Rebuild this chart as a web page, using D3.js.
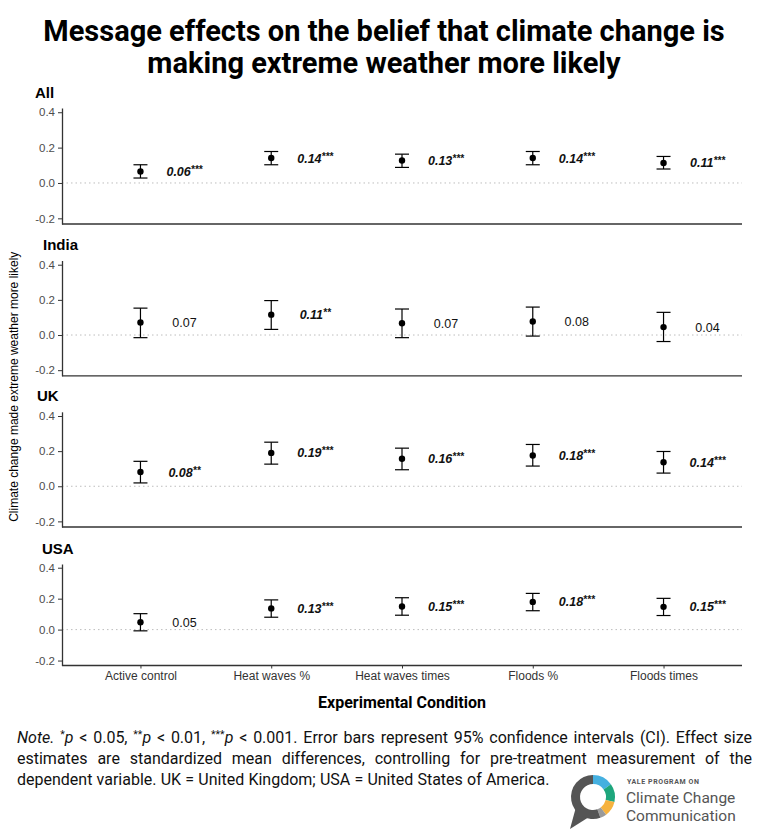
<!DOCTYPE html>
<meta charset="utf-8">
<script src="https://d3js.org/d3.v7.min.js"></script>
<body style="margin:0;background:#fff">
<div id="canvas"></div>
<script>
// data ---------------------------------------------------------------
var categories = ["Active control", "Heat waves %", "Heat waves times", "Floods %", "Floods times"];
var panelNames = ["All", "India", "UK", "USA"];
var yTicks = [-0.2, 0.0, 0.2, 0.4];

// estimates and 95% CI per panel (rows follow panelNames)
var estimates = [
    [0.065, 0.141, 0.127, 0.141, 0.113],
    [0.071, 0.116, 0.067, 0.077, 0.045],
    [0.081, 0.190, 0.157, 0.175, 0.137],
    [0.048, 0.137, 0.149, 0.179, 0.147]
];
var ciLow = [
    [0.028, 0.103, 0.088, 0.103, 0.079],
    [-0.015, 0.032, -0.015, -0.006, -0.037],
    [0.019, 0.126, 0.094, 0.115, 0.075],
    [-0.008, 0.080, 0.093, 0.122, 0.091]
];
var ciHigh = [
    [0.103, 0.178, 0.163, 0.178, 0.150],
    [0.153, 0.196, 0.148, 0.159, 0.129],
    [0.142, 0.251, 0.217, 0.238, 0.198],
    [0.103, 0.192, 0.206, 0.234, 0.202]
];
var valueLabels = [
    ["0.06", "0.14", "0.13", "0.14", "0.11"],
    ["0.07", "0.11", "0.07", "0.08", "0.04"],
    ["0.08", "0.19", "0.16", "0.18", "0.14"],
    ["0.05", "0.13", "0.15", "0.18", "0.15"]
];
var stars = [
    ["***", "***", "***", "***", "***"],
    ["", "**", "", "", ""],
    ["**", "***", "***", "***", "***"],
    ["", "***", "***", "***", "***"]
];

var titleLines = ["Message effects on the belief that climate change is", "making extreme weather more likely"];
var yTitle = "Climate change made extreme weather more likely";
var xTitle = "Experimental Condition";
// _ toggles italic, ^ toggles superscript
var noteLines = [
    "_Note._ ^*^_p_ < 0.05, ^**^_p_ < 0.01, ^***^_p_ < 0.001. Error bars represent 95% confidence intervals (CI). Effect size",
    "estimates are standardized mean differences, controlling for pre-treatment measurement of the",
    "dependent variable. UK = United Kingdom; USA = United States of America."
];

// layout ---------------------------------------------------------------
var width = 768, height = 834;
var left = 62, right = 742;
var panelBox = [[108, 224], [260.5, 375.8], [411.8, 527], [564, 665.5]];
var panelTitleX = [35, 43, 37, 42];
var axisFont = "'Liberation Sans', Arial, sans-serif";

var svg = d3.select("#canvas").append("svg")
    .attr("width", width).attr("height", height)
    .style("background", "#fff");

// title
svg.selectAll(".title").data(titleLines).enter().append("text")
    .attr("x", 384).attr("y", function(d, i){ return 41 + i * 32; })
    .attr("text-anchor", "middle")
    .style("font-family", "Roboto, sans-serif")
    .style("font-weight", "bold")
    .style("font-size", "29px")
    .attr("fill", "#000")
    .text(function(d){ return d; });

var x = d3.scalePoint().domain(categories).range([left, right]).padding(0.6);

panelNames.forEach(function(name, p){
    var box = panelBox[p];
    var y = d3.scaleLinear().domain([-0.232, 0.424]).range([box[1], box[0]]);
    var g = svg.append("g");

    // panel title
    g.append("text")
        .attr("x", panelTitleX[p]).attr("y", box[0] - 10.5)
        .style("font-family", axisFont).style("font-weight", "bold").style("font-size", "15px")
        .text(name);

    // zero line
    g.append("line")
        .attr("x1", left).attr("x2", right)
        .attr("y1", y(0)).attr("y2", y(0))
        .attr("stroke", "#bdbdbd").attr("stroke-width", 1)
        .attr("stroke-dasharray", "1.5,3");

    // y axis
    var yAxis = d3.axisLeft(y).tickValues(yTicks).tickSize(4).tickPadding(3).tickSizeOuter(0)
        .tickFormat(function(d){ return d.toFixed(1); });
    var ya = g.append("g").attr("transform", "translate(" + left + ",0)").call(yAxis);
    ya.select(".domain").attr("stroke", "#333").attr("stroke-width", 1.3);
    ya.selectAll(".tick line").attr("stroke", "#333");
    ya.selectAll(".tick text").attr("fill", "#4d4d4d")
        .style("font-family", axisFont).style("font-size", "11.5px");

    // bottom axis line
    var isLast = (p === panelNames.length - 1);
    var xAxis = d3.axisBottom(x).tickSize(isLast ? 3 : 0).tickSizeOuter(0);
    var xa = g.append("g").attr("transform", "translate(0," + box[1] + ")").call(xAxis);
    xa.select(".domain").attr("stroke", "#333").attr("stroke-width", 1.3)
        .attr("d", "M" + left + ",0H" + right);
    xa.selectAll(".tick line").attr("stroke", "#333");
    xa.selectAll(".tick text")
        .attr("fill", isLast ? "#333" : "none")
        .attr("dy", "0.72em")
        .style("font-family", axisFont).style("font-size", "12px");

    // error bars
    var rows = categories.map(function(c, i){
        return {c: c, est: estimates[p][i], lo: ciLow[p][i], hi: ciHigh[p][i],
                lab: valueLabels[p][i], st: stars[p][i]};
    });
    var bars = g.selectAll(".bar").data(rows).enter().append("g");
    bars.append("line")
        .attr("x1", function(d){ return x(d.c); }).attr("x2", function(d){ return x(d.c); })
        .attr("y1", function(d){ return y(d.lo); }).attr("y2", function(d){ return y(d.hi); })
        .attr("stroke", "#000").attr("stroke-width", 1.2);
    ["lo", "hi"].forEach(function(k){
        bars.append("line")
            .attr("x1", function(d){ return x(d.c) - 7; }).attr("x2", function(d){ return x(d.c) + 7; })
            .attr("y1", function(d){ return y(d[k]); }).attr("y2", function(d){ return y(d[k]); })
            .attr("stroke", "#000").attr("stroke-width", 1.2);
    });
    bars.append("circle")
        .attr("cx", function(d){ return x(d.c); }).attr("cy", function(d){ return y(d.est); })
        .attr("r", 3.2).attr("fill", "#000");

    // value labels
    var t = bars.append("text")
        .attr("x", function(d){ return x(d.c) + 44; })
        .attr("y", function(d){ return y(d.est); })
        .attr("dy", "0.36em")
        .attr("text-anchor", "middle")
        .style("font-family", axisFont).style("font-size", "12.5px")
        .style("font-weight", function(d){ return d.st ? "bold" : "normal"; })
        .style("font-style", function(d){ return d.st ? "italic" : "normal"; })
        .attr("fill", "#111");
    t.append("tspan").text(function(d){ return d.lab; });
    t.append("tspan").attr("dy", -3).style("font-size", "10px").text(function(d){ return d.st; });
});

// axis titles
svg.append("text")
    .attr("transform", "translate(18," + ((panelBox[0][0] + panelBox[3][1]) / 2) + ") rotate(-90)")
    .attr("text-anchor", "middle")
    .style("font-family", axisFont).style("font-size", "12px")
    .text(yTitle);

svg.append("text")
    .attr("x", (left + right) / 2).attr("y", 708)
    .attr("text-anchor", "middle")
    .style("font-family", "Roboto, sans-serif").style("font-weight", "bold").style("font-size", "16px")
    .text(xTitle);

// note, justified word by word
function parseWord(w){
    var segs = [], cur = "", it = false, sup = false;
    for (var k = 0; k < w.length; k++){
        var ch = w[k];
        if (ch === "_" || ch === "^"){
            if (cur) segs.push({t: cur, it: it, sup: sup});
            cur = "";
            if (ch === "_") it = !it; else sup = !sup;
        } else cur += ch;
    }
    if (cur) segs.push({t: cur, it: it, sup: sup});
    return segs;
}
var noteLeft = 17, noteRight = 752;
noteLines.forEach(function(line, li){
    var words = line.split(" ");
    var nodes = words.map(function(w){
        var txt = svg.append("text")
            .attr("y", 743 + li * 21)
            .style("font-family", "Roboto, sans-serif").style("font-size", "16px")
            .attr("fill", "#111");
        var prevSup = false;
        parseWord(w).forEach(function(s){
            var ts = txt.append("tspan").text(s.t)
                .style("font-style", s.it ? "italic" : "normal");
            if (s.sup) ts.style("font-size", "10.5px").attr("dy", -5);
            else if (prevSup) ts.attr("dy", 5);
            prevSup = s.sup;
        });
        return txt;
    });
    var widths = nodes.map(function(n){ return n.node().getComputedTextLength(); });
    var total = d3.sum(widths);
    var justify = li < noteLines.length - 1;
    var gap = justify ? (noteRight - noteLeft - total) / (words.length - 1) : 4.2;
    var cx = noteLeft;
    nodes.forEach(function(n, i){
        n.attr("x", cx);
        cx += widths[i] + gap;
    });
});

// logo
var logo = svg.append("g").attr("transform", "translate(593,797)");
logo.append("path")
    .attr("d", "M-17,10 L-23,32 L-4,20 Z")
    .attr("fill", "#555");
var arc = d3.arc().innerRadius(13).outerRadius(22);
var ringParts = [
    {a0: 0, a1: 0.95, c: "#45b0e0"},
    {a0: 0.95, a1: 1.8, c: "#1ea67c"},
    {a0: 1.8, a1: 2.5, c: "#f6b23e"},
    {a0: 2.5, a1: 2.8, c: "#9a9a9a"},
    {a0: 2.8, a1: 2 * Math.PI, c: "#555"}
];
logo.selectAll(".ring").data(ringParts).enter().append("path")
    .attr("d", function(d){ return arc({startAngle: d.a0, endAngle: d.a1}); })
    .attr("fill", function(d){ return d.c; });

svg.append("text").attr("x", 627).attr("y", 784)
    .style("font-family", "Roboto, sans-serif").style("font-weight", "bold").style("font-size", "7px")
    .style("letter-spacing", "0.6px").attr("fill", "#555")
    .text("YALE PROGRAM ON");
svg.append("text").attr("x", 626).attr("y", 803)
    .style("font-family", "Roboto, sans-serif").style("font-size", "15.5px").attr("fill", "#555")
    .text("Climate Change");
svg.append("text").attr("x", 626).attr("y", 821)
    .style("font-family", "Roboto, sans-serif").style("font-size", "15.5px").attr("fill", "#555")
    .text("Communication");
</script>
</body>
